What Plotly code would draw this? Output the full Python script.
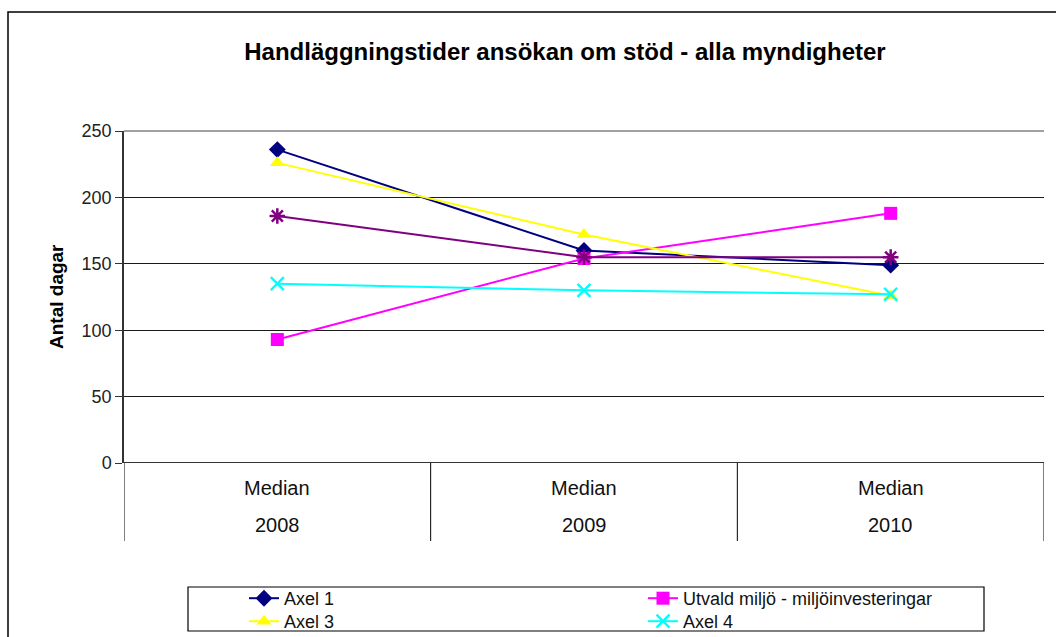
import plotly.graph_objects as go

years = ["2008", "2009", "2010"]
period_label = "Median"
x_pos = [0, 1, 2]

axel1 = [236, 160, 149]
utvald = [93, 154, 188]
axel3 = [226, 172, 126]
axel4 = [135, 130, 127]
axel2 = [186, 155, 155]

y_ticks = [0, 50, 100, 150, 200, 250]

series = [
    ("Axel 1", axel1, "#000080", "diamond", 13, True, "legend"),
    ("Utvald miljö - miljöinvesteringar", utvald, "#FF00FF", "square", 13, True, "legend"),
    ("Axel 3", axel3, "#FFFF00", "triangle-up", 13, True, "legend2"),
    ("Axel 4", axel4, "#00FFFF", "x-thin", 13, True, "legend2"),
    ("Axel 2", axel2, "#800080", "asterisk", 13, False, "legend"),
]

fig = go.Figure()
for name, vals, col, sym, sz, show, lg in series:
    open_sym = sym in ("x-thin", "asterisk")
    fig.add_trace(go.Scatter(
        x=x_pos, y=vals, name=name, mode="lines+markers",
        line=dict(color=col, width=2),
        marker=dict(symbol=sym, size=sz, color=col,
                    line=dict(color=col, width=2.5 if open_sym else 0)),
        showlegend=show, legend=lg,
    ))

L, R, T, B = 124, 12, 131, 174
W, H = 1056, 637
pw, ph = W - L - R, H - T - B

def px_x(px):
    return (px - L) / pw

def px_y(py):
    return (H - B - py) / ph

FONT = "Arial, Liberation Sans"

shapes = []
# outer chart border
shapes.append(dict(type="rect", xref="paper", yref="paper",
                   x0=px_x(8), x1=px_x(1070), y0=px_y(660), y1=px_y(12),
                   line=dict(color="#000000", width=1.5), layer="below"))
# plot area top border (gray)
shapes.append(dict(type="line", xref="paper", yref="paper",
                   x0=0, x1=1, y0=1, y1=1, line=dict(color="#808080", width=1.5)))
# category separators below axis
for xv in [-0.5, 0.5, 1.5, 2.5]:
    shapes.append(dict(type="line", xref="x", yref="paper",
                       x0=xv, x1=xv, y0=0, y1=px_y(541),
                       line=dict(color="#000000", width=1)))
# legend box
shapes.append(dict(type="rect", xref="paper", yref="paper",
                   x0=px_x(188), x1=px_x(984), y0=px_y(631), y1=px_y(587),
                   line=dict(color="#000000", width=1.2), fillcolor="white", layer="below"))

annotations = []
for i, yr in enumerate(years):
    annotations.append(dict(x=x_pos[i], y=px_y(488), xref="x", yref="paper",
                            text=period_label, showarrow=False,
                            font=dict(family=FONT, size=20, color="#111111"),
                            xanchor="center", yanchor="middle"))
    annotations.append(dict(x=x_pos[i], y=px_y(525), xref="x", yref="paper",
                            text=yr, showarrow=False,
                            font=dict(family=FONT, size=20, color="#111111"),
                            xanchor="center", yanchor="middle"))
annotations.append(dict(x=px_x(56), y=0.5, xref="paper", yref="paper",
                        text="<b>Antal dagar</b>", textangle=-90, showarrow=False,
                        font=dict(family=FONT, size=19, color="#000000"),
                        xanchor="center", yanchor="middle"))

leg_common = dict(orientation="h", xref="container", yref="container",
                  x=(250 - 6) / W, xanchor="left", yanchor="top",
                  entrywidth=354, entrywidthmode="pixels",
                  bgcolor="rgba(0,0,0,0)", borderwidth=0, tracegroupgap=0,
                  font=dict(family=FONT, size=18, color="#111111"))

fig.update_layout(
    width=W, height=H,
    margin=dict(l=L, r=R, t=T, b=B),
    paper_bgcolor="white", plot_bgcolor="white",
    title=dict(text="<b>Handläggningstider ansökan om stöd - alla myndigheter</b>",
               x=565 / W, xanchor="center", xref="container",
               y=1 - 52 / H, yanchor="middle", yref="container",
               font=dict(family=FONT, size=24, color="#000000")),
    xaxis=dict(range=[-0.5, 2.5], showgrid=False, zeroline=False,
               showticklabels=False, ticks="", showline=False, fixedrange=True),
    yaxis=dict(range=[0, 250], tickvals=y_ticks, showgrid=True,
               gridcolor="#1a1a1a", gridwidth=1, zeroline=False,
               showline=True, linecolor="#333333", linewidth=1.5,
               ticks="outside", ticklen=7, tickcolor="#333333",
               tickfont=dict(family=FONT, size=18, color="#222222")),
    legend=dict(leg_common, y=1 - 580 / H),
    legend2=dict(leg_common, y=1 - 603 / H),
    shapes=shapes, annotations=annotations,
    showlegend=True,
)

# x-axis baseline at 0
fig.add_shape(type="line", xref="paper", yref="y", x0=0, x1=1, y0=0, y1=0,
              line=dict(color="#333333", width=2))

fig.write_html(
    "out.html",
    config={"displayModeBar": False},
    post_script="document.body.style.margin='0';document.body.style.overflow='hidden';",
)
